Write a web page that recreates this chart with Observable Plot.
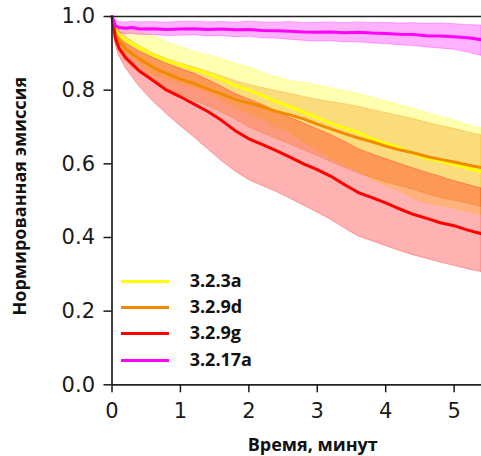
<!DOCTYPE html>
<html>
<head>
<meta charset="utf-8">
<script src="https://cdn.jsdelivr.net/npm/d3@7"></script>
<script src="https://cdn.jsdelivr.net/npm/@observablehq/plot@0.6"></script>
<style>
  html, body { margin: 0; padding: 0; background: #fff; }
  #wrap { position: relative; width: 481px; height: 456px; overflow: hidden; }
  .leg-line { position: absolute; height: 3px; }
  .leg-text { position: absolute; font-family: "Open Sans", sans-serif; font-weight: bold; font-size: 18px; line-height: 18px; color: #111; white-space: nowrap; }
</style>
</head>
<body>
<div id="wrap"></div>
<script>
// time, minutes
const t = [0, 0.05, 0.1, 0.2, 0.3, 0.4, 0.6, 0.8, 1.0, 1.2, 1.4, 1.6, 1.8, 2.0, 2.2, 2.4, 2.6, 2.8, 3.0, 3.2, 3.4, 3.6, 3.8, 4.0, 4.2, 4.4, 4.6, 4.8, 5.0, 5.2, 5.4];

// series names and colours
const seriesNames = ["3.2.3a", "3.2.9d", "3.2.9g", "3.2.17a"];
const seriesColors = ["#ffff00", "#f28a00", "#ff0000", "#ff00ff"];

// 3.2.3a
const meanA = [1.0, 0.965, 0.95, 0.935, 0.925, 0.915, 0.895, 0.88, 0.868, 0.856, 0.845, 0.83, 0.812, 0.80, 0.785, 0.768, 0.755, 0.74, 0.725, 0.71, 0.697, 0.685, 0.668, 0.655, 0.643, 0.628, 0.615, 0.607, 0.598, 0.588, 0.578];
const hiA   = [1.0, 0.985, 0.975, 0.968, 0.962, 0.958, 0.948, 0.93, 0.917, 0.905, 0.895, 0.885, 0.872, 0.862, 0.848, 0.835, 0.825, 0.82, 0.813, 0.805, 0.798, 0.79, 0.78, 0.77, 0.76, 0.75, 0.738, 0.728, 0.718, 0.705, 0.696];
const loA   = [1.0, 0.945, 0.925, 0.902, 0.888, 0.872, 0.842, 0.83, 0.818, 0.807, 0.795, 0.775, 0.752, 0.738, 0.722, 0.70, 0.685, 0.66, 0.637, 0.615, 0.596, 0.58, 0.556, 0.54, 0.526, 0.506, 0.492, 0.486, 0.478, 0.471, 0.46];

// 3.2.9d
const meanD = [1.0, 0.955, 0.935, 0.912, 0.898, 0.885, 0.862, 0.845, 0.83, 0.818, 0.803, 0.79, 0.775, 0.765, 0.755, 0.742, 0.733, 0.722, 0.708, 0.695, 0.682, 0.67, 0.66, 0.648, 0.638, 0.63, 0.62, 0.612, 0.605, 0.597, 0.59];
const hiD   = [1.0, 0.975, 0.962, 0.945, 0.932, 0.92, 0.90, 0.885, 0.872, 0.862, 0.85, 0.838, 0.825, 0.815, 0.806, 0.798, 0.79, 0.782, 0.774, 0.768, 0.762, 0.755, 0.746, 0.738, 0.73, 0.722, 0.712, 0.703, 0.695, 0.686, 0.677];
const loD   = [1.0, 0.935, 0.908, 0.88, 0.862, 0.848, 0.822, 0.802, 0.788, 0.772, 0.756, 0.74, 0.72, 0.70, 0.683, 0.668, 0.653, 0.637, 0.622, 0.605, 0.59, 0.574, 0.562, 0.55, 0.54, 0.53, 0.518, 0.508, 0.50, 0.492, 0.483];

// 3.2.9g
const meanG = [1.0, 0.94, 0.915, 0.888, 0.87, 0.852, 0.826, 0.80, 0.782, 0.762, 0.742, 0.718, 0.69, 0.668, 0.652, 0.636, 0.618, 0.60, 0.584, 0.566, 0.543, 0.522, 0.508, 0.494, 0.478, 0.463, 0.452, 0.44, 0.432, 0.42, 0.41];
const hiG   = [1.0, 0.96, 0.945, 0.928, 0.916, 0.905, 0.888, 0.872, 0.858, 0.845, 0.828, 0.81, 0.79, 0.775, 0.76, 0.742, 0.725, 0.71, 0.694, 0.678, 0.66, 0.64, 0.626, 0.613, 0.60, 0.588, 0.576, 0.565, 0.553, 0.543, 0.533];
const loG   = [1.0, 0.925, 0.895, 0.86, 0.835, 0.81, 0.77, 0.735, 0.703, 0.672, 0.64, 0.608, 0.58, 0.556, 0.54, 0.524, 0.506, 0.487, 0.468, 0.448, 0.425, 0.403, 0.39, 0.377, 0.364, 0.352, 0.342, 0.332, 0.323, 0.314, 0.306];

// 3.2.17a
const meanM = [1.0, 0.975, 0.97, 0.968, 0.97, 0.966, 0.967, 0.965, 0.966, 0.967, 0.965, 0.966, 0.964, 0.965, 0.962, 0.961, 0.96, 0.958, 0.957, 0.958, 0.956, 0.957, 0.955, 0.954, 0.952, 0.951, 0.948, 0.947, 0.945, 0.942, 0.937];
const hiM   = [1.0, 0.99, 0.985, 0.983, 0.986, 0.984, 0.985, 0.983, 0.985, 0.986, 0.984, 0.985, 0.983, 0.986, 0.984, 0.983, 0.985, 0.982, 0.983, 0.984, 0.982, 0.984, 0.982, 0.983, 0.981, 0.982, 0.98, 0.981, 0.979, 0.977, 0.975];
const loM   = [1.0, 0.96, 0.955, 0.952, 0.953, 0.95, 0.95, 0.947, 0.948, 0.949, 0.946, 0.947, 0.944, 0.945, 0.941, 0.94, 0.937, 0.934, 0.932, 0.933, 0.93, 0.93, 0.927, 0.925, 0.922, 0.92, 0.916, 0.913, 0.91, 0.902, 0.893];

const xTicks = [0, 1, 2, 3, 4, 5];
const yTicks = [0, 0.2, 0.4, 0.6, 0.8, 1.0];
const xLabel = "Время, минут";
const yLabel = "Нормированная эмиссия";

const seriesData = [[meanA, hiA, loA], [meanD, hiD, loD], [meanG, hiG, loG], [meanM, hiM, loM]];
const rows = [];
seriesData.forEach(([m, h, l], k) => {
  t.forEach((tt, i) => rows.push({series: seriesNames[k], t: tt, mean: m[i], hi: h[i], lo: l[i]}));
});

const colorOf = Object.fromEntries(seriesNames.map((n, i) => [n, seriesColors[i]]));
const marks = [];
seriesNames.forEach(n => {
  marks.push(Plot.areaY(rows.filter(d => d.series === n), {
    x: "t", y1: "lo", y2: "hi", fill: colorOf[n], fillOpacity: 0.3,
    stroke: colorOf[n], strokeOpacity: 0.3, strokeWidth: 1
  }));
});
seriesNames.forEach(n => {
  marks.push(Plot.line(rows.filter(d => d.series === n), {
    x: "t", y: "mean", stroke: colorOf[n], strokeWidth: 3
  }));
});

const chart = Plot.plot({
  width: 481,
  height: 456,
  marginLeft: 111.5,
  marginRight: 0,
  marginTop: 16,
  marginBottom: 71.7,
  style: {fontFamily: "DejaVu Sans", fontSize: "21px", color: "#1a1a1a", background: "#fff", overflow: "visible"},
  x: {domain: [0, 5.4]},
  y: {domain: [0, 1]},
  marks: [
    ...marks,
    Plot.ruleY([0, 1], {stroke: "#222", strokeWidth: 1.7}),
    Plot.ruleX([0], {stroke: "#222", strokeWidth: 1.7}),
    Plot.axisY(yTicks, {tickSize: 8, tickPadding: 9, tickFormat: d3.format(".1f"), strokeWidth: 1.5, label: null}),
    Plot.axisX(xTicks, {tickSize: 8, tickPadding: 10, tickFormat: d => String(d), strokeWidth: 1.5, label: null}),
    Plot.text([yLabel], {text: d => d, frameAnchor: "left", rotate: -90, dx: -91.5, dy: -4.5,
      textAnchor: "middle", lineAnchor: "middle",
      fontFamily: "Open Sans", fontWeight: "bold", fontSize: 18, fill: "#111"}),
    Plot.text([xLabel], {text: d => d, frameAnchor: "bottom", dx: 16, dy: 66,
      textAnchor: "middle", lineAnchor: "bottom",
      fontFamily: "Open Sans", fontWeight: "bold", fontSize: 18, fill: "#111"})
  ]
});

const wrap = document.getElementById("wrap");
wrap.appendChild(chart);

// legend overlay
const legY = [281.7, 307.7, 333.7, 360];
seriesNames.forEach((n, i) => {
  const ln = document.createElement("div");
  ln.className = "leg-line";
  ln.style.left = "120.7px";
  ln.style.width = "48.3px";
  ln.style.top = (legY[i] - 1.5) + "px";
  ln.style.background = colorOf[n];
  wrap.appendChild(ln);
  const tx = document.createElement("div");
  tx.className = "leg-text";
  tx.style.left = "189.7px";
  tx.style.top = (legY[i] - 10.5) + "px";
  tx.textContent = n;
  wrap.appendChild(tx);
});
</script>
</body>
</html>
